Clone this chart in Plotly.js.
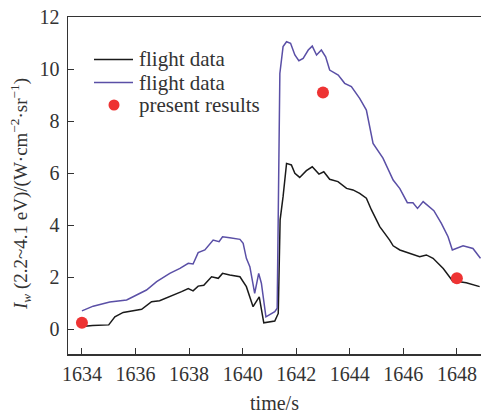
<!DOCTYPE html>
<html>
<head>
<meta charset="utf-8">
<script src="https://cdn.plot.ly/plotly-3.0.1.min.js"></script>
<style>html,body{margin:0;padding:0;background:#fff;}#chart{width:481px;height:414px;}</style>
</head>
<body>
<div id="chart"></div>
<script>
var blackX = [1634.0,1634.4,1635.0,1635.23,1635.54,1636.23,1636.6,1636.9,1637.72,1637.97,1638.15,1638.34,1638.55,1638.84,1639.09,1639.25,1639.52,1639.9,1640.14,1640.39,1640.62,1640.79,1641.2,1641.33,1641.4,1641.51,1641.64,1641.82,1641.95,1642.13,1642.38,1642.6,1642.85,1643.03,1643.25,1643.56,1643.88,1644.12,1644.37,1644.62,1644.81,1645.12,1645.49,1645.62,1645.87,1646.36,1646.61,1646.86,1647.11,1647.49,1647.86,1648.1,1648.35,1648.85];
var blackY = [0.10,0.14,0.16,0.47,0.64,0.76,1.05,1.09,1.44,1.56,1.47,1.65,1.68,2.01,1.95,2.14,2.08,2.01,1.63,0.86,1.24,0.24,0.31,0.60,4.20,5.09,6.37,6.31,5.99,5.83,6.09,6.24,5.96,6.05,5.76,5.67,5.41,5.35,5.22,5.03,4.58,3.94,3.42,3.20,3.04,2.85,2.78,2.85,2.72,2.33,1.82,1.82,1.78,1.63];
var purpleX = [1634.0,1634.42,1635.04,1635.67,1636.04,1636.41,1636.79,1637.28,1637.66,1637.97,1638.15,1638.34,1638.59,1638.9,1639.12,1639.25,1639.52,1639.9,1640.02,1640.14,1640.27,1640.45,1640.6,1640.7,1640.87,1641.2,1641.29,1641.39,1641.51,1641.64,1641.79,1641.95,1642.1,1642.26,1642.45,1642.6,1642.76,1642.94,1643.1,1643.25,1643.57,1643.81,1644.06,1644.37,1644.62,1644.87,1645.24,1645.62,1645.87,1646.15,1646.36,1646.53,1646.74,1647.14,1647.42,1647.67,1647.83,1647.98,1648.23,1648.6,1648.88];
var purpleY = [0.70,0.88,1.04,1.12,1.31,1.50,1.82,2.14,2.33,2.53,2.50,2.94,3.04,3.42,3.36,3.55,3.51,3.45,3.30,2.72,2.40,1.37,2.14,1.76,0.47,0.67,0.80,9.83,10.86,11.05,10.99,10.54,10.32,10.41,10.73,10.88,10.54,10.73,10.47,9.96,9.77,9.45,9.32,8.87,8.42,7.14,6.57,5.73,5.40,4.86,4.86,4.64,4.90,4.55,4.06,3.55,3.04,3.10,3.20,3.10,2.72];
var resultX = [1634, 1643, 1648];
var resultY = [0.24, 9.1, 1.95];
var xTicks = [1634,1636,1638,1640,1642,1644,1646,1648];
var yTicks = [0,2,4,6,8,10,12];
var seriesNames = ['flight data', 'flight data', 'present results'];
var seriesColors = ['#1a1a1a', '#5a4fa6', '#ee3333'];
var yTitle = '<i>I</i><sub><i>w</i></sub> (2.2~4.1 eV)/(W·cm<sup>−2</sup>·sr<sup>−1</sup>)';

var FAM = 'Liberation Serif, Times New Roman, serif';
var TXT = '#333';
var tickFont = {family: FAM, size: 20, color: TXT};
var legFont = {family: FAM, size: 21, color: TXT};

var traces = [
  {x: blackX, y: blackY, mode: 'lines', name: seriesNames[0], line: {color: seriesColors[0], width: 1.5}},
  {x: purpleX, y: purpleY, mode: 'lines', name: seriesNames[1], line: {color: seriesColors[1], width: 1.5}},
  {x: resultX, y: resultY, mode: 'markers', name: seriesNames[2], marker: {color: seriesColors[2], size: 12}}
];

// manual legend (compact row spacing as in the reference)
var L = 68, R = 481, T = 17, B = 354;
function px(x) { return (x - L) / (R - L); }
function py(y) { return (B - y) / (B - T); }
var rowY = [59.5, 82.5, 105];
var shapes = [], annotations = [];
for (var i = 0; i < 3; i++) {
  if (i < 2) {
    shapes.push({type: 'line', xref: 'paper', yref: 'paper', x0: px(94), x1: px(133), y0: py(rowY[i]), y1: py(rowY[i]),
      line: {color: seriesColors[i], width: 1.5}});
  } else {
    shapes.push({type: 'circle', xref: 'paper', yref: 'paper', xsizemode: 'pixel', ysizemode: 'pixel',
      xanchor: px(114), yanchor: py(rowY[i]), x0: -5.5, x1: 5.5, y0: -5.5, y1: 5.5,
      fillcolor: seriesColors[i], line: {width: 0}});
  }
  annotations.push({xref: 'paper', yref: 'paper', x: px(137), y: py(rowY[i]), xanchor: 'left', yanchor: 'middle',
    text: seriesNames[i], showarrow: false, font: legFont});
}
// y-axis title as rotated annotation, placed where the reference draws it
annotations.push({xref: 'paper', yref: 'paper', x: px(20), y: py(194), xanchor: 'center', yanchor: 'middle',
  textangle: -90, text: yTitle, showarrow: false, font: {family: FAM, size: 19, color: TXT}});

var layout = {
  width: 481, height: 414,
  margin: {l: 68, r: 0, t: 17, b: 60},
  paper_bgcolor: '#fff', plot_bgcolor: '#fff',
  font: tickFont,
  showlegend: false,
  shapes: shapes,
  annotations: annotations,
  xaxis: {
    range: [1633.48, 1648.9], tickvals: xTicks, ticktext: xTicks.map(String),
    ticks: 'inside', ticklen: 6, tickcolor: '#333', tickfont: tickFont, ticklabelstandoff: 1,
    showline: true, linecolor: '#333', linewidth: 1.5,
    mirror: true, showgrid: false, zeroline: false,
    title: {text: 'time/s', font: {family: FAM, size: 20, color: TXT}, standoff: 17}
  },
  yaxis: {
    range: [-0.96, 12], tickvals: yTicks, ticktext: yTicks.map(String),
    ticks: 'inside', ticklen: 6, tickcolor: '#333', tickfont: tickFont, ticklabelstandoff: 3,
    showline: true, linecolor: '#333', linewidth: 1.5,
    showgrid: false, zeroline: false
  }
};
Plotly.newPlot('chart', traces, layout, {displayModeBar: false, staticPlot: true});
</script>
</body>
</html>
